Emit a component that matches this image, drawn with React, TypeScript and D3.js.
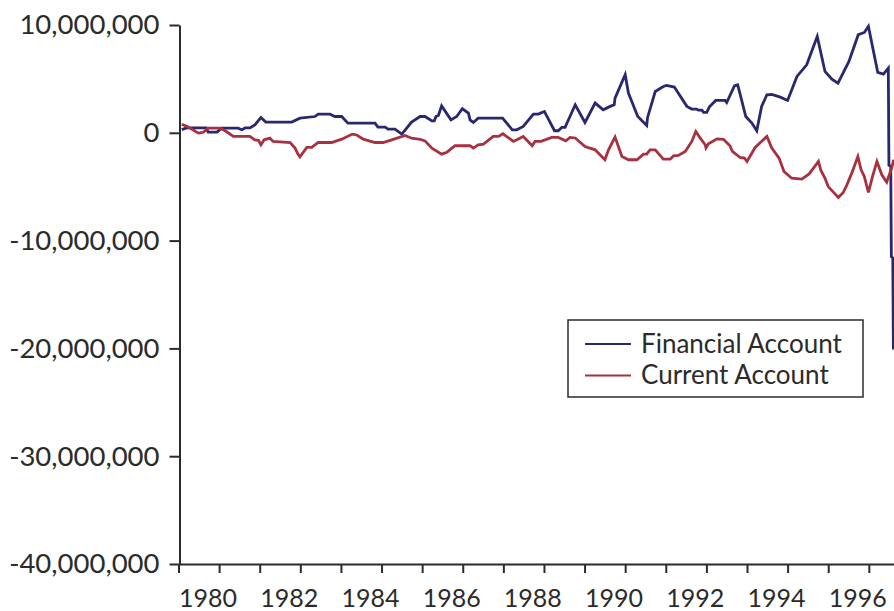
import { useEffect, useRef } from "react"
import * as d3 from "d3"

// [year, value in millions]
const financialAccount: [number, number][] = [
    [1980.08, 0.3], [1980.2, 0.45], [1980.68, 0.45], [1980.73, 0.06], [1980.95, 0.06], [1981.06, 0.43],
    [1981.47, 0.43], [1981.56, 0.28], [1981.64, 0.45], [1981.76, 0.45], [1981.88, 0.74], [1982.03, 1.42],
    [1982.15, 0.99], [1982.79, 0.99], [1982.99, 1.36], [1983.36, 1.51], [1983.44, 1.73], [1983.73, 1.73],
    [1983.85, 1.51], [1984.02, 1.51], [1984.17, 0.9], [1984.84, 0.9], [1984.91, 0.53], [1985.09, 0.53],
    [1985.16, 0.34], [1985.33, 0.34], [1985.5, -0.12], [1985.74, 0.99], [1985.95, 1.51], [1986.07, 1.51],
    [1986.24, 1.11], [1986.3, 1.11], [1986.34, 1.51], [1986.4, 1.6], [1986.48, 2.5], [1986.71, 1.2],
    [1986.85, 1.51], [1986.99, 2.23], [1987.14, 1.83], [1987.18, 1.2], [1987.26, 0.96], [1987.38, 1.36],
    [1987.98, 1.36], [1988.22, 0.28], [1988.33, 0.28], [1988.49, 0.59], [1988.74, 1.73], [1988.86, 1.73],
    [1989.01, 1.98], [1989.26, 0.19], [1989.35, 0.19], [1989.44, 0.5], [1989.52, 0.5], [1989.77, 2.6],
    [1990.01, 0.96], [1990.26, 2.76], [1990.46, 2.14], [1990.63, 2.45], [1990.73, 2.6], [1990.75, 3.22],
    [1991.0, 5.39], [1991.08, 3.69], [1991.31, 1.51], [1991.53, 0.68], [1991.55, 1.4], [1991.74, 3.83],
    [1991.94, 4.3], [1992.02, 4.39], [1992.21, 4.24], [1992.52, 2.45], [1992.64, 2.2], [1992.76, 2.2],
    [1992.8, 2.1], [1992.89, 2.1], [1992.93, 1.89], [1993.01, 1.89], [1993.07, 2.38], [1993.23, 3.0],
    [1993.46, 3.0], [1993.5, 2.8], [1993.69, 4.36], [1993.77, 4.45], [1993.81, 3.9], [1993.97, 1.51],
    [1994.12, 0.9], [1994.24, 0.19], [1994.36, 2.45], [1994.49, 3.53], [1994.61, 3.55], [1994.82, 3.31],
    [1995.0, 3.0], [1995.23, 5.23], [1995.47, 6.31], [1995.73, 8.94], [1995.92, 5.69], [1996.09, 4.98],
    [1996.24, 4.61], [1996.51, 6.62], [1996.74, 9.1], [1996.89, 9.31], [1996.99, 9.87], [1997.22, 5.6],
    [1997.36, 5.45], [1997.48, 6.0], [1997.495, -3.0], [1997.54, -3.1], [1997.555, -11.5], [1997.59, -11.6],
    [1997.605, -20.1],
]

const currentAccount: [number, number][] = [
    [1980.08, 0.8], [1980.24, 0.53], [1980.49, -0.03], [1980.61, 0.05], [1980.73, 0.43], [1981.02, 0.43],
    [1981.15, 0.19], [1981.35, -0.34], [1981.76, -0.34], [1981.88, -0.65], [1981.97, -0.7], [1982.03, -1.11],
    [1982.11, -0.65], [1982.25, -0.5], [1982.33, -0.8], [1982.75, -0.9], [1982.87, -1.42], [1982.94, -1.98],
    [1982.99, -2.23], [1983.16, -1.36], [1983.28, -1.36], [1983.44, -0.9], [1983.77, -0.9], [1984.02, -0.59],
    [1984.28, -0.12], [1984.39, -0.2], [1984.55, -0.59], [1984.84, -0.9], [1985.04, -0.9], [1985.25, -0.65],
    [1985.58, -0.25], [1985.74, -0.5], [1985.95, -0.6], [1986.07, -0.75], [1986.24, -1.42], [1986.48, -1.98],
    [1986.61, -1.8], [1986.81, -1.2], [1987.18, -1.2], [1987.26, -1.42], [1987.38, -1.11], [1987.51, -1.05],
    [1987.75, -0.34], [1987.88, -0.34], [1987.99, -0.09], [1988.25, -0.8], [1988.49, -0.34], [1988.71, -1.2],
    [1988.78, -0.8], [1988.93, -0.8], [1989.19, -0.43], [1989.35, -0.43], [1989.54, -0.74], [1989.64, -0.43],
    [1989.77, -0.48], [1990.01, -1.27], [1990.26, -1.58], [1990.38, -2.04], [1990.5, -2.5], [1990.59, -1.58],
    [1990.75, -0.4], [1990.92, -2.2], [1991.08, -2.5], [1991.29, -2.5], [1991.45, -1.98], [1991.53, -1.98],
    [1991.61, -1.58], [1991.74, -1.58], [1991.94, -2.45], [1992.11, -2.45], [1992.19, -2.14], [1992.31, -2.1],
    [1992.48, -1.73], [1992.64, -0.8], [1992.74, 0.12], [1992.85, -0.5], [1992.97, -1.11], [1992.99, -1.4],
    [1993.05, -1.02], [1993.26, -0.56], [1993.42, -0.6], [1993.58, -1.2], [1993.64, -1.73], [1993.83, -2.29],
    [1993.94, -2.35], [1994.0, -2.66], [1994.2, -1.36], [1994.49, -0.34], [1994.61, -1.42], [1994.79, -2.35],
    [1994.91, -3.59], [1995.1, -4.21], [1995.35, -4.3], [1995.53, -3.81], [1995.76, -2.66], [1995.82, -3.5],
    [1995.92, -4.21], [1996.0, -4.99], [1996.15, -5.6], [1996.25, -6.0], [1996.37, -5.54], [1996.46, -4.83],
    [1996.58, -3.74], [1996.73, -2.2], [1996.81, -3.44], [1996.89, -4.06], [1996.99, -5.54], [1997.09, -4.06],
    [1997.2, -2.66], [1997.32, -3.9], [1997.44, -4.58], [1997.57, -3.18], [1997.61, -2.5],
]

const yearTicks = d3.range(1980, 1998)
const valueTicks = [-40e6, -30e6, -20e6, -10e6, 0, 10e6]
const seriesNames = ["Financial Account", "Current Account"]
const seriesColors = ["#28286f", "#a8303f"]

const width = 894
const height = 611
const font = "Lato, 'Open Sans', sans-serif"
const ink = "#2b2b2b"

export default function App() {
    const svgRef = useRef<SVGSVGElement>(null)

    useEffect(() => {
        const svg = d3.select(svgRef.current)
        svg.selectAll("*").remove()

        const x = d3.scaleLinear().domain([1980, 1997.62]).range([178.5, width])
        const y = d3.scaleLinear().domain([-40e6, 10e6]).range([564, 25])

        const fmt = d3.formatLocale({ decimal: ".", thousands: ",", grouping: [3], currency: ["", ""], minus: "-" }).format(",")

        // y axis
        const gy = svg.append("g")
            .attr("transform", `translate(179.5,0)`)
            .call(d3.axisLeft(y).tickValues(valueTicks).tickSize(10).tickSizeOuter(0).tickFormat((d: any) => fmt(d)))
        gy.select(".domain").attr("stroke", ink).attr("stroke-width", 2)
        gy.selectAll(".tick line").attr("stroke", ink).attr("stroke-width", 2)
        gy.selectAll(".tick text")
            .attr("x", -20)
            .attr("fill", ink)
            .style("font-family", font)
            .style("font-size", "27.5px")

        // x axis
        const gx = svg.append("g")
            .attr("transform", `translate(0,${y(-40e6)})`)
            .call(d3.axisBottom(x).tickValues(yearTicks).tickSize(9).tickSizeOuter(0)
                .tickFormat((d: any) => (d % 2 === 0 ? String(d) : "")))
        gx.select(".domain").attr("stroke", ink).attr("stroke-width", 2)
        gx.selectAll(".tick line").attr("stroke", ink).attr("stroke-width", 2)
        gx.selectAll(".tick text")
            .attr("text-anchor", "start")
            .attr("x", 0)
            .attr("y", 43)
            .attr("dy", 0)
            .attr("fill", ink)
            .style("font-family", font)
            .style("font-size", "25px")

        const line = d3.line<[number, number]>()
            .x(d => x(d[0]))
            .y(d => y(d[1] * 1e6))

        const series = [financialAccount, currentAccount]
        series.forEach((s, i) => {
            svg.append("path")
                .datum(s)
                .attr("fill", "none")
                .attr("stroke", seriesColors[i])
                .attr("stroke-width", 2.8)
                .attr("stroke-linejoin", "miter")
                .attr("d", line as any)
        })

        // legend
        const lg = svg.append("g").attr("transform", "translate(568,320)")
        lg.append("rect")
            .attr("width", 295).attr("height", 77)
            .attr("fill", "#fff").attr("stroke", ink).attr("stroke-width", 1.5)
        seriesNames.forEach((name, i) => {
            const ly = 24 + i * 31.5
            lg.append("line")
                .attr("x1", 17).attr("x2", 63).attr("y1", ly).attr("y2", ly)
                .attr("stroke", seriesColors[i]).attr("stroke-width", 2)
            lg.append("text")
                .attr("x", 73).attr("y", ly + 8.5)
                .attr("fill", ink)
                .style("font-family", font)
                .style("font-size", "26px")
                .text(name)
        })
    }, [])

    return (
        <svg ref={svgRef} width={width} height={height}
            style={{ position: "absolute", left: 0, top: 0, background: "#fff" }} />
    )
}
